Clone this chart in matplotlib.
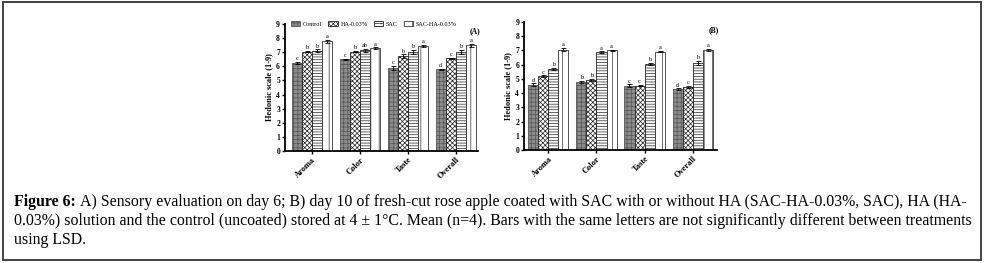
import matplotlib
matplotlib.use('Agg')
import matplotlib.pyplot as plt
from matplotlib.patches import Rectangle
import numpy as np

# data
attributes = ['Aroma', 'Color', 'Taste', 'Overall']
treatments = ['Control', 'HA-0.03%', 'SAC', 'SAC-HA-0.03%']

day6 = [[6.25, 6.5, 5.9, 5.78],     # Control
        [7.05, 7.05, 6.72, 6.58],   # HA-0.03%
        [7.12, 7.15, 7.02, 7.02],   # SAC
        [7.78, 7.3, 7.45, 7.48]]    # SAC-HA-0.03%
day6_err = [[0.07, 0.04, 0.15, 0.06],
            [0.04, 0.06, 0.12, 0.04],
            [0.08, 0.1, 0.15, 0.15],
            [0.12, 0.04, 0.05, 0.12]]
day6_letters = [['c', 'c', 'c', 'd'],
                ['b', 'b', 'b', 'c'],
                ['b', 'ab', 'b', 'b'],
                ['a', 'a', 'a', 'a']]

day10 = [[4.58, 4.8, 4.52, 4.28],
         [5.2, 4.92, 4.52, 4.45],
         [5.72, 6.88, 6.05, 6.12],
         [7.05, 7.02, 6.92, 7.05]]
day10_err = [[0.1, 0.06, 0.1, 0.05],
             [0.05, 0.06, 0.04, 0.06],
             [0.06, 0.06, 0.06, 0.15],
             [0.12, 0.04, 0.05, 0.07]]
day10_letters = [['d', 'b', 'c', 'd'],
                 ['c', 'b', 'c', 'c'],
                 ['b', 'a', 'b', 'b'],
                 ['a', 'a', 'a', 'a']]

styles = [dict(facecolor='#8c8c8c', hatch='++++', edgecolor='#555555'),
          dict(facecolor='white', hatch='xxxxxxx', edgecolor='#222222'),
          dict(facecolor='white', hatch='------', edgecolor='#222222'),
          dict(facecolor='white', hatch='||', edgecolor='#333333')]

plt.rcParams['font.family'] = ['Liberation Serif', 'DejaVu Serif']
plt.rcParams['hatch.linewidth'] = 0.5

fig = plt.figure(figsize=(9.85, 2.63), dpi=100)
fig.patches.append(Rectangle((0.003, 0.011), 0.993, 0.98, transform=fig.transFigure,
                             fill=False, edgecolor='#333333', linewidth=1.3))


def panel(ax, vals, errs, letters, xlim, tag):
    x = np.arange(len(attributes))
    w = 0.21
    for i in range(len(treatments)):
        xs = x + (i - 1.5) * w
        ax.bar(xs, vals[i], w, linewidth=0.6, label=treatments[i], **styles[i])
        ax.errorbar(xs, vals[i], yerr=errs[i], fmt='none', ecolor='black',
                    elinewidth=0.6, capsize=1.8, capthick=0.6)
        for xx, v, e, lt in zip(xs, vals[i], errs[i], letters[i]):
            ax.text(xx, v + e + 0.05, lt, ha='center', va='bottom', fontsize=4.5)
    ax.set_xlim(*xlim)
    ax.set_ylim(0, 9)
    ax.set_yticks(range(10))
    ax.set_xticks(x)
    ax.set_xticklabels(attributes, rotation=45, ha='right', rotation_mode='anchor',
                       fontsize=6, fontweight='bold')
    for lb in ax.get_yticklabels():
        lb.set_fontsize(5.5)
        lb.set_fontweight('bold')
    ax.tick_params(axis='both', length=2.5, width=1.0, pad=1)
    ax.set_ylabel('Hedonic scale (1-9)', fontsize=6, fontweight='bold', labelpad=2)
    for s in ['top', 'right']:
        ax.spines[s].set_visible(False)
    for s in ['left', 'bottom']:
        ax.spines[s].set_linewidth(1.3)
    ax.text(0.985, 0.94, tag, transform=ax.transAxes, ha='center', va='center',
            fontsize=5.5, fontweight='bold')


axA = fig.add_axes([0.2893, 0.4259, 0.196, 0.4828])
panel(axA, day6, day6_err, day6_letters, (-0.56, 3.46), '(A)')
axA.legend(loc='center', bbox_to_anchor=(0.46, 1.0), ncol=4, fontsize=4.4, frameon=False,
           handlelength=1.6, handleheight=0.9, handletextpad=0.4, columnspacing=1.0)

axB = fig.add_axes([0.532, 0.4297, 0.196, 0.4866])
panel(axB, day10, day10_err, day10_letters, (-0.5, 3.5), '(B)')

# caption
fs = 11.45
fig.canvas.draw()
r = fig.canvas.get_renderer()
t0 = fig.text(0.014, 0.232, 'Figure 6:', fontsize=fs, fontweight='bold', va='center')
bb = t0.get_window_extent(renderer=r)
x1 = (bb.x1 + 4) / fig.bbox.width
fig.text(x1, 0.232, 'A) Sensory evaluation on day 6; B) day 10 of fresh-cut rose apple coated with '
         'SAC with or without HA (SAC-HA-0.03%, SAC), HA (HA-', fontsize=fs, va='center')
fig.text(0.014, 0.160, '0.03%) solution and the control (uncoated) stored at 4 \u00b1 1\u00b0C. Mean (n=4). '
         'Bars with the same letters are not significantly different between treatments',
         fontsize=fs, va='center')
fig.text(0.014, 0.088, 'using LSD.', fontsize=fs, va='center')

fig.savefig('out.png', dpi=100)
